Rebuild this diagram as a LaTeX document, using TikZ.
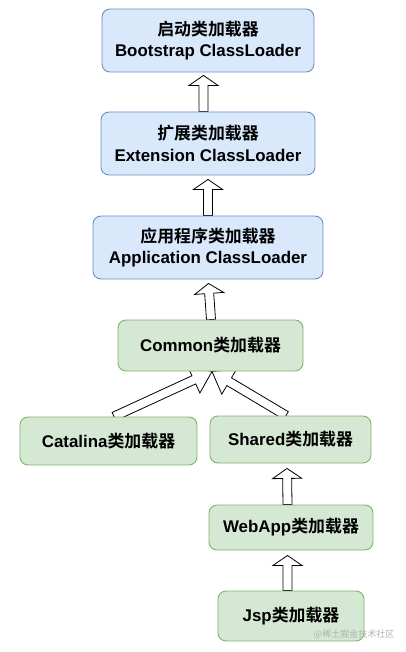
\documentclass[tikz,border=0pt]{standalone}
\usepackage{fontspec}
\setmainfont{Liberation Sans}
\newfontfamily\cjk{Noto Sans CJK SC}[BoldFont={Noto Sans CJK SC Bold}]
\usetikzlibrary{calc, backgrounds}
\definecolor{blueFill}{HTML}{DAE8FC}
\definecolor{blueLine}{HTML}{6C8EBF}
\definecolor{greenFill}{HTML}{D5E8D4}
\definecolor{greenLine}{HTML}{82B366}
\tikzset{
    loader/.style={draw, rounded corners=8pt, line width=.9pt, align=center, inner sep=0pt,
        font=\fontsize{16.9}{21.5}\selectfont\bfseries},
    bluebox/.style={loader, draw=blueLine, fill=blueFill},
    greenbox/.style={loader, draw=greenLine, fill=greenFill},
    hollow/.style={draw=black, fill=white, line width=.8pt, line join=miter},
}
% hollow block arrow: [head length]{base}{tip}
\newcommand{\uparrowto}[3][10pt]{
    \coordinate(base)at(#2);
    \coordinate(tip)at(#3);
    \coordinate(neck)at($(tip)!#1!(base)$);
    \draw[hollow]($(base)!4.5pt!90:(tip)$)--($(neck)!4.5pt!90:(tip)$)--($(neck)!14.5pt!90:(tip)$)--(tip)
        --($(neck)!14.5pt!-90:(tip)$)--($(neck)!4.5pt!-90:(tip)$)--($(base)!4.5pt!-90:(tip)$)--cycle;
}

\begin{document}
\begin{tikzpicture}[x=1pt, y=-1pt]
    \useasboundingbox(0, 0)rectangle(405, 652);
    \node[bluebox, minimum width=212, minimum height=63](boot)at(208, 40.5){\cjk{启动类加载器}\\Bootstrap ClassLoader};
    \node[bluebox, minimum width=214, minimum height=63](ext)at(208, 143.5){\cjk{扩展类加载器}\\Extension ClassLoader};
    \node[bluebox, minimum width=230, minimum height=63](app)at(208, 247.5){\cjk{应用程序类加载器}\\Application ClassLoader};
    \node[greenbox, minimum width=185, minimum height=51](common)at(210.5, 345.5){Common\cjk{类加载器}};
    \node[greenbox, minimum width=177, minimum height=48](catalina)at(108.5, 441){Catalina\cjk{类加载器}};
    \node[greenbox, minimum width=161, minimum height=47](shared)at(290.5, 439.5){Shared\cjk{类加载器}};
    \node[greenbox, minimum width=164, minimum height=45](webapp)at(291, 527.5){WebApp\cjk{类加载器}};
    \node[greenbox, minimum width=146, minimum height=50](jsp)at(291, 616){Jsp\cjk{类加载器}};
    \node[text=gray!60, font=\cjk\fontsize{9}{9}\selectfont](mark)at(354, 634){@稀土掘金技术社区};
    \begin{scope}[on background layer]
        \uparrowto{[xshift=-4.5pt]ext.north}{[xshift=-4.5pt, yshift=-3pt]boot.south}
        \uparrowto{app.north}{[yshift=-4pt]ext.south}
        \uparrowto{[xshift=.5pt]common.north}{[xshift=.5pt, yshift=-4pt]app.south}
        \uparrowto[20pt]{[xshift=5.5pt]catalina.north}{[xshift=1.5pt]common.south}
        \uparrowto[20pt]{[xshift=-4.5pt]shared.north}{[xshift=1.5pt]common.south}
        \uparrowto{[xshift=-3.5pt]webapp.north}{[xshift=-3.5pt, yshift=-5pt]shared.south}
        \uparrowto{[xshift=-3.5pt]jsp.north}{[xshift=-3.5pt, yshift=-5pt]webapp.south}
    \end{scope}
\end{tikzpicture}
\end{document}
